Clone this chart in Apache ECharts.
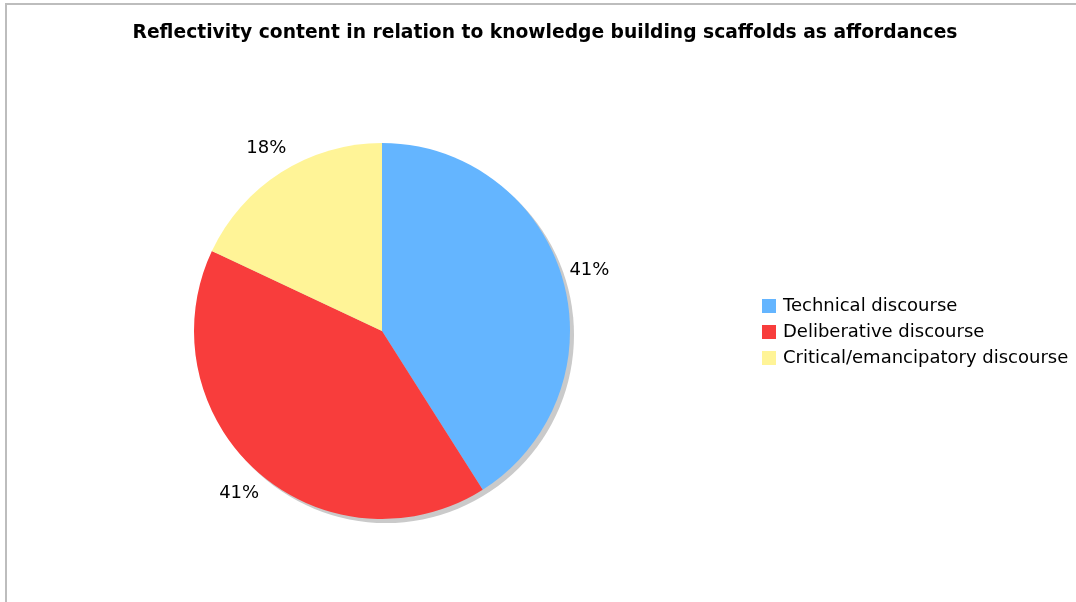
<!DOCTYPE html>
<html><head><meta charset="utf-8">
<script src="https://cdn.jsdelivr.net/npm/echarts@6/dist/echarts.min.js"></script>
<style>html,body{margin:0;padding:0;background:#fff}#c{width:1076px;height:602px}</style>
</head><body><div id="c"></div>
<script>
const titleText = 'Reflectivity content in relation to knowledge building scaffolds as affordances';
const categories = ['Technical discourse', 'Deliberative discourse', 'Critical/emancipatory discourse'];
const values = [41, 41, 18];
const colors = ['#64b5ff', '#f83d3c', '#fff497'];

const data = categories.map((n, i) => ({ name: n, value: values[i], itemStyle: { color: colors[i] } }));
const chart = echarts.init(document.getElementById('c'));
chart.setOption({
  animation: false,
  title: { text: titleText, left: 540, top: 19, textAlign: 'center',
    textStyle: { fontFamily: 'DejaVu Sans', fontWeight: 'bold', fontSize: 18.7, color: '#000' } },
  legend: { orient: 'vertical', left: 762, top: 297, padding: 0, itemWidth: 14, itemHeight: 14, itemGap: 8, icon: 'rect',
    data: categories,
    textStyle: { fontFamily: 'DejaVu Sans', fontSize: 18, lineHeight: 18, color: '#000', padding: [0, 0, 0, 2] } },
  graphic: [
    { type: 'polyline', shape: { points: [[6, 602], [6, 4], [1076, 4]] }, style: { stroke: '#bdbdbd', lineWidth: 2, fill: null }, silent: true }
  ],
  series: [
    { type: 'pie', center: [386, 335], radius: 188, silent: true, startAngle: 90, clockwise: true,
      label: { show: false }, labelLine: { show: false }, legendHoverLink: false,
      data: [{ name: '_shadow', value: 1, itemStyle: { color: '#cacaca' } }], z: 1 },
    { type: 'pie', center: [382, 331], radius: 188, startAngle: 90, clockwise: true, silent: true,
      label: { show: false }, labelLine: { show: false },
      itemStyle: { borderWidth: 0 }, data: data, z: 2 },
    { type: 'pie', center: [382, 331], radius: [198, 228], startAngle: 90, clockwise: true, silent: true,
      legendHoverLink: false,
      itemStyle: { color: 'rgba(0,0,0,0)', borderWidth: 0 },
      label: { show: true, position: 'inside', formatter: '{c}%', fontFamily: 'DejaVu Sans', fontSize: 18, color: '#000' },
      labelLine: { show: false },
      data: categories.map((n, i) => ({ name: 'lbl' + i, value: values[i] })), z: 3 }
  ]
});
</script></body></html>
